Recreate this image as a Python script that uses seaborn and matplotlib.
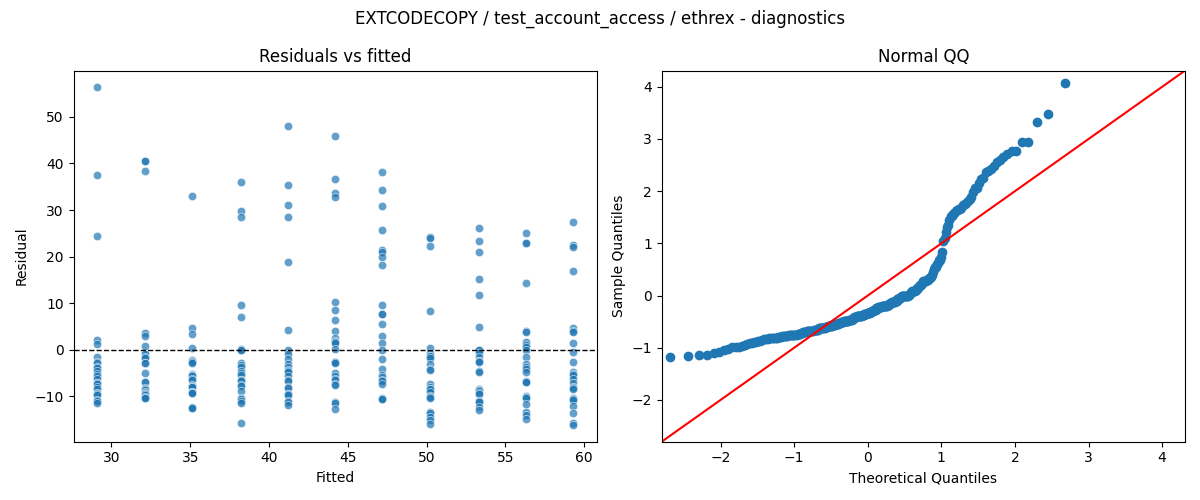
import numpy as np
import pandas as pd
import matplotlib
matplotlib.use("Agg")
import matplotlib.pyplot as plt
import seaborn as sns
from statistics import NormalDist

# fitted value of each group (x positions of the vertical strips)
fitted_levels = [29.1, 32.1, 35.1, 38.2, 41.2, 44.2, 47.2, 50.2, 53.3, 56.3, 59.3]

# residuals per fitted group
res_g1 = [56.3, 37.5, 24.5, 2.1, 1.3, -1.6, -2.6, -2.8, -3.6, -4.0, -4.5, -5.2, -5.6,
          -6.2, -7.1, -7.2, -7.3, -8.0, -8.4, -9.3, -9.4, -9.6, -10.8, -10.9, -11.4]
res_g2 = [40.6, 40.5, 38.3, 3.7, 3.0, 0.9, -0.8, -0.9, -1.6, -1.7, -2.8, -2.9, -5.0,
          -6.8, -6.9, -8.2, -8.4, -8.6, -9.0, -9.2, -9.5, -9.6, -10.1, -10.3, -10.4]
res_g3 = [33.0, 4.7, 3.4, 0.3, -2.1, -2.5, -2.7, -2.9, -5.2, -5.3, -5.4, -5.6, -6.3,
          -6.4, -7.6, -7.7, -7.9, -8.0, -9.0, -9.1, -9.2, -9.3, -12.2, -12.4, -12.5]
res_g4 = [36.0, 29.8, 28.5, 9.6, 7.1, 0.1, 0.0, -0.1, -2.9, -3.2, -3.6, -4.6, -5.0,
          -5.4, -6.4, -6.5, -6.7, -7.5, -7.7, -8.9, -10.4, -10.6, -11.0, -11.4, -15.7]
res_g5 = [48.1, 35.3, 31.0, 28.6, 18.8, 4.3, -0.1, -0.9, -1.9, -3.1, -3.6, -4.4, -4.6,
          -4.8, -5.7, -6.5, -6.7, -7.9, -8.2, -9.4, -9.5, -9.7, -11.0, -11.2, -11.9]
res_g6 = [45.9, 36.6, 33.6, 32.8, 10.3, 8.6, 6.4, 4.1, 2.6, 2.0, 1.6, 1.4, 0.1,
          -2.6, -2.7, -2.9, -5.0, -5.6, -6.3, -6.4, -7.4, -7.6, -11.1, -11.4, -12.7]
res_g7 = [38.2, 34.3, 30.9, 25.7, 21.5, 21.1, 19.9, 18.2, 9.6, 7.7, 7.6, 5.6, 3.0,
          1.4, 0.0, -2.0, -4.1, -5.4, -5.9, -6.5, -6.6, -7.4, -10.4, -10.5, -10.6]
res_g8 = [24.2, 24.1, 22.3, 8.4, 0.3, -0.6, -1.3, -1.4, -1.7, -3.0, -4.2, -4.3, -7.4,
          -7.9, -8.4, -8.5, -9.0, -10.0, -10.2, -10.3, -13.3, -13.6, -14.4, -15.1, -15.9]
res_g9 = [26.2, 23.3, 21.0, 15.2, 11.7, 4.9, 0.0, -0.1, -0.6, -1.6, -2.3, -2.4, -2.7,
          -4.6, -4.7, -8.4, -8.6, -8.9, -9.2, -9.4, -10.9, -11.0, -11.2, -12.2, -12.9]
res_g10 = [25.0, 23.0, 22.9, 14.4, 4.0, 3.9, 1.7, 1.1, 0.6, -0.1, -1.6, -3.1, -3.7,
           -4.1, -4.8, -6.7, -6.8, -6.9, -9.9, -10.1, -10.3, -11.6, -13.4, -13.9, -14.9]
res_g11 = [27.5, 22.6, 22.0, 16.9, 4.7, 4.0, 3.9, 1.4, -0.4, -2.7, -4.8, -5.2, -5.4,
           -6.2, -7.1, -7.9, -8.2, -8.4, -10.4, -10.5, -10.7, -12.0, -13.6, -15.6, -16.1]

groups = [res_g1, res_g2, res_g3, res_g4, res_g5, res_g6, res_g7, res_g8, res_g9,
          res_g10, res_g11]

title_text = "EXTCODECOPY / test_account_access / ethrex - diagnostics"

rows = []
for f, g in zip(fitted_levels, groups):
    for r in g:
        rows.append((f, r))
df = pd.DataFrame(rows, columns=["fitted", "resid"])

# QQ data derived from residuals
resid = df["resid"].to_numpy()
sample = np.sort((resid - resid.mean()) / resid.std())
n = len(sample)
nd = NormalDist()
theo = np.array([nd.inv_cdf(i / (n + 1)) for i in range(1, n + 1)])
qq = pd.DataFrame({"theo": theo, "sample": sample})

plt.rcParams["font.family"] = ["DejaVu Sans"]
fig, axes = plt.subplots(1, 2, figsize=(12, 5), dpi=100)

ax = axes[0]
sns.scatterplot(data=df, x="fitted", y="resid", alpha=0.7, ax=ax, color="#1f77b4")
ax.axhline(0, color="black", linestyle="--", linewidth=1)
ax.set_title("Residuals vs fitted")
ax.set_xlabel("Fitted")
ax.set_ylabel("Residual")

ax = axes[1]
sns.scatterplot(data=qq, x="theo", y="sample", ax=ax, color="#1f77b4",
                edgecolor="#1f77b4", linewidth=1, s=36)
lims = [-2.8, 4.31]
ax.plot(lims, lims, color="red", linewidth=1.5)
ax.set_xlim(lims)
ax.set_ylim(lims)
ax.set_title("Normal QQ")
ax.set_xlabel("Theoretical Quantiles")
ax.set_ylabel("Sample Quantiles")

fig.suptitle(title_text)
fig.tight_layout()
fig.savefig("out.png")
